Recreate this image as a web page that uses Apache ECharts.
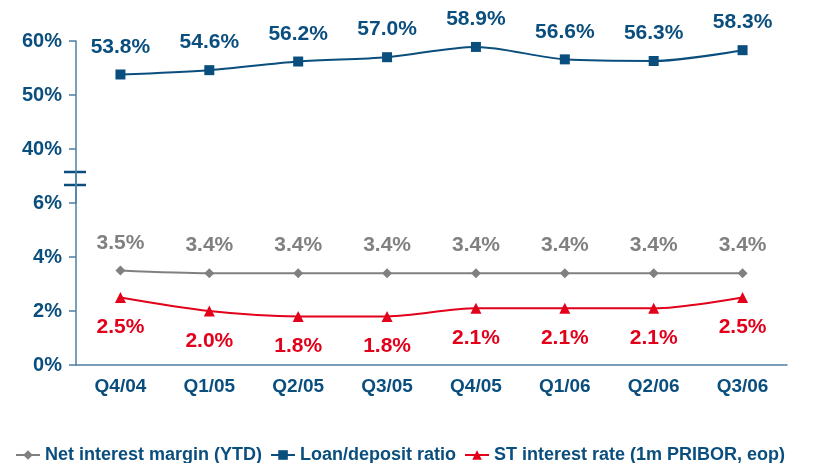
<!DOCTYPE html>
<html>
<head>
<meta charset="utf-8">
<script src="https://cdn.jsdelivr.net/npm/echarts@6/dist/echarts.min.js"></script>
<style>
  html, body { margin: 0; padding: 0; background: #fff; }
  #chart { width: 814px; height: 463px; }
</style>
</head>
<body>
<div id="chart"></div>
<script>
const quarters = ['Q4/04', 'Q1/05', 'Q2/05', 'Q3/05', 'Q4/05', 'Q1/06', 'Q2/06', 'Q3/06'];
const netInterestMargin = [3.5, 3.4, 3.4, 3.4, 3.4, 3.4, 3.4, 3.4];
const loanDepositRatio = [53.8, 54.6, 56.2, 57.0, 58.9, 56.6, 56.3, 58.3];
const stInterestRate = [2.5, 2.0, 1.8, 1.8, 2.1, 2.1, 2.1, 2.5];
const upperTicks = [40, 50, 60];
const lowerTicks = [0, 2, 4, 6];

const BLUE = '#0a4e7e';
const AXIS = '#4d7fa3';
const GRAY = '#808080';
const RED = '#e2001a';
const FONT = 'Liberation Sans, Arial, sans-serif';

const chart = echarts.init(document.getElementById('chart'));

const pct = p => p.value.toFixed(1) + '%';

chart.setOption({
  animation: false,
  grid: [
    // upper part: 30..60 (only 40-60 shown), lower part: 0..6.67
    { left: 76, right: 27, top: 41, height: 162 },
    { left: 76, right: 27, top: 185, height: 180 }
  ],
  xAxis: [
    { gridIndex: 0, type: 'category', data: quarters, show: false },
    {
      gridIndex: 1, type: 'category', data: quarters,
      axisLine: { lineStyle: { color: AXIS, width: 1.5 } },
      axisTick: { length: 6, lineStyle: { color: AXIS, width: 1.5 } },
      axisLabel: { color: BLUE, fontFamily: FONT, fontWeight: 'bold', fontSize: 19, margin: 12 }
    }
  ],
  yAxis: [
    {
      gridIndex: 0, type: 'value', min: 30, max: 60,
      splitLine: { show: false },
      axisLine: { show: true, lineStyle: { color: AXIS, width: 1.5 } },
      axisTick: { show: true, length: 7, customValues: upperTicks, lineStyle: { color: AXIS, width: 1.5 } },
      axisLabel: { customValues: upperTicks, formatter: '{value}%', color: BLUE, fontFamily: FONT, fontWeight: 'bold', fontSize: 20, margin: 14 }
    },
    {
      gridIndex: 1, type: 'value', min: 0, max: 20 / 3,
      splitLine: { show: false },
      axisLine: { show: true, lineStyle: { color: AXIS, width: 1.5 } },
      axisTick: { show: true, length: 7, customValues: lowerTicks, lineStyle: { color: AXIS, width: 1.5 } },
      axisLabel: { customValues: lowerTicks, formatter: '{value}%', color: BLUE, fontFamily: FONT, fontWeight: 'bold', fontSize: 20, margin: 14 }
    }
  ],
  legend: {
    left: 10, top: 441,
    itemWidth: 24, itemHeight: 12, itemGap: 8,
    textStyle: { color: BLUE, fontFamily: FONT, fontWeight: 'bold', fontSize: 18 },
    data: ['Net interest margin (YTD)', 'Loan/deposit ratio', 'ST interest rate (1m PRIBOR, eop)']
  },
  series: [
    {
      name: 'Net interest margin (YTD)', type: 'line', xAxisIndex: 1, yAxisIndex: 1,
      data: netInterestMargin, smooth: 0.3,
      symbol: 'diamond', symbolSize: 10,
      itemStyle: { color: GRAY }, lineStyle: { color: GRAY, width: 2 },
      label: { show: true, position: 'top', distance: 12, formatter: pct, color: GRAY, fontFamily: FONT, fontWeight: 'bold', fontSize: 21 }
    },
    {
      name: 'Loan/deposit ratio', type: 'line', xAxisIndex: 0, yAxisIndex: 0,
      data: loanDepositRatio, smooth: 0.3,
      symbol: 'rect', symbolSize: 10,
      itemStyle: { color: BLUE }, lineStyle: { color: BLUE, width: 2 },
      label: { show: true, position: 'top', distance: 12, formatter: pct, color: BLUE, fontFamily: FONT, fontWeight: 'bold', fontSize: 21 }
    },
    {
      name: 'ST interest rate (1m PRIBOR, eop)', type: 'line', xAxisIndex: 1, yAxisIndex: 1,
      data: stInterestRate, smooth: 0.3,
      symbol: 'triangle', symbolSize: 11,
      itemStyle: { color: RED }, lineStyle: { color: RED, width: 2 },
      label: { show: true, position: 'bottom', distance: 14, formatter: pct, color: RED, fontFamily: FONT, fontWeight: 'bold', fontSize: 21 }
    }
  ],
  graphic: [
    // axis break marks
    { type: 'rect', shape: { x: 64, y: 173, width: 22, height: 12 }, style: { fill: '#fff' } },
    { type: 'line', shape: { x1: 64, y1: 172, x2: 86, y2: 172 }, style: { stroke: BLUE, lineWidth: 2.5 } },
    { type: 'line', shape: { x1: 64, y1: 185, x2: 86, y2: 185 }, style: { stroke: BLUE, lineWidth: 2.5 } },
    { type: 'line', shape: { x1: 76, y1: 172, x2: 76, y2: 185 }, style: { stroke: AXIS, lineWidth: 1.5 } }
  ]
});
</script>
</body>
</html>
